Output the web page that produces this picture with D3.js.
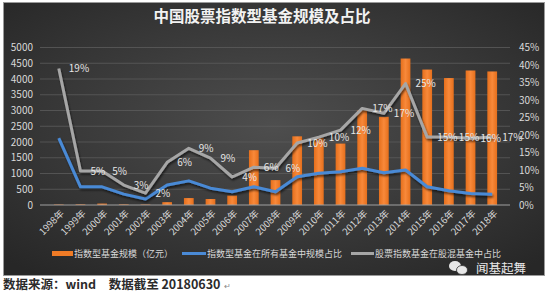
<!DOCTYPE html>
<html>
<head>
<meta charset="utf-8">
<script src="https://cdn.jsdelivr.net/npm/d3@7"></script>
<style>
  body { margin: 0; background: #fff; }
  svg { display: block; }
  text { font-family: "Noto Sans CJK SC", "Noto Sans", sans-serif; }
</style>
</head>
<body>
<svg id="chart" width="550" height="294"></svg>
<script>
// 年份
const years = ["1998年","1999年","2000年","2001年","2002年","2003年","2004年","2005年","2006年","2007年",
  "2008年","2009年","2010年","2011年","2012年","2013年","2014年","2015年","2016年","2017年","2018年"];
// 指数型基金规模（亿元）
const fundSize = [15, 20, 45, 20, 15, 90, 220, 190, 300, 1740, 790, 2180, 2130, 1950, 3000, 2800, 4650, 4300, 4030, 4270, 4240];
// 指数型基金在所有基金中规模占比 (%)
const shareAll = [19.1, 5.2, 5.2, 3.1, 1.7, 5.7, 6.9, 4.8, 3.8, 5.2, 3.8, 8.1, 9.1, 9.5, 10.5, 9.2, 10.0, 5.2, 4.1, 3.3, 3.1];
// 股票指数基金在股混基金中占比 (%)
const shareEquity = [39.0, 9.7, 9.7, 5.7, 3.4, 12.2, 16.2, 13.4, 8.0, 10.8, 10.5, 17.7, 19.4, 21.4, 27.6, 26.2, 34.7, 19.4, 19.4, 19.1, 19.4];
// 图上的数据标签
const pointLabels = ["19%","5%","5%","3%","2%","6%","9%","9%","4%","6%","6%","10%","10%","12%","17%","17%","25%","15%","15%","16%","17%"];
const leftTicks = [0, 500, 1000, 1500, 2000, 2500, 3000, 3500, 4000, 4500, 5000];
const rightTicks = [0, 5, 10, 15, 20, 25, 30, 35, 40, 45];

const svg = d3.select("#chart");
const defs = svg.append("defs");

const bg = defs.append("radialGradient").attr("id", "bg").attr("cx", "50%").attr("cy", "45%").attr("r", "70%");
bg.append("stop").attr("offset", "0%").attr("stop-color", "#4e4e4e");
bg.append("stop").attr("offset", "100%").attr("stop-color", "#272727");

const barGrad = defs.append("linearGradient").attr("id", "barGrad").attr("x1", 0).attr("x2", 1).attr("y1", 0).attr("y2", 0);
barGrad.append("stop").attr("offset", "0%").attr("stop-color", "#e56f1c");
barGrad.append("stop").attr("offset", "50%").attr("stop-color", "#f8893a");
barGrad.append("stop").attr("offset", "100%").attr("stop-color", "#e56f1c");

const shadow = defs.append("filter").attr("id", "shadow").attr("x", "-10%").attr("y", "-10%").attr("width", "120%").attr("height", "130%");
shadow.append("feDropShadow").attr("dx", 1).attr("dy", 2).attr("stdDeviation", 1.2)
  .attr("flood-color", "#000").attr("flood-opacity", 0.6);

// 背景面板
svg.append("rect").attr("x", 3.5).attr("y", 2.5).attr("width", 541).attr("height", 273)
  .attr("fill", "url(#bg)").attr("stroke", "#9a9a9a").attr("stroke-width", 1);

svg.append("text").attr("x", 262).attr("y", 22).attr("text-anchor", "middle")
  .attr("fill", "#f2f2f2").attr("font-size", 15.5).attr("font-weight", "bold")
  .text("中国股票指数型基金规模及占比");

const x = d3.scaleBand().domain(years).range([42, 509]).padding(0.55);
const y = d3.scaleLinear().domain([0, 5000]).range([205, 47.5]);
const y2 = d3.scaleLinear().domain([0, 45]).range([205, 47.5]);
const cx = (d) => x(d) + x.bandwidth() / 2;

// 网格线
svg.append("g").selectAll("line").data(leftTicks.slice(1)).join("line")
  .attr("x1", 40).attr("x2", 510)
  .attr("y1", (d) => y(d)).attr("y2", (d) => y(d))
  .attr("stroke", "#5c5c5c").attr("stroke-width", 0.8);

const yAxis = svg.append("g").attr("transform", "translate(33,0)")
  .call(d3.axisLeft(y).tickValues(leftTicks).tickFormat(d3.format("d")).tickSize(0).tickPadding(0));
yAxis.select(".domain").remove();
yAxis.selectAll("text").attr("fill", "#d9d9d9").attr("font-size", 10)
  .attr("font-family", "'Liberation Sans', sans-serif");

const y2Axis = svg.append("g").attr("transform", "translate(519,0)")
  .call(d3.axisRight(y2).tickValues(rightTicks).tickFormat((d) => d + "%").tickSize(0).tickPadding(0));
y2Axis.select(".domain").remove();
y2Axis.selectAll("text").attr("fill", "#d9d9d9").attr("font-size", 10)
  .attr("font-family", "'Liberation Sans', sans-serif");

// 柱
svg.append("g").selectAll("rect").data(years).join("rect")
  .attr("x", (d) => x(d))
  .attr("y", (d, i) => y(fundSize[i]))
  .attr("width", x.bandwidth())
  .attr("height", (d, i) => y(0) - y(fundSize[i]))
  .attr("fill", "url(#barGrad)");

svg.append("line").attr("x1", 40).attr("x2", 510).attr("y1", y(0)).attr("y2", y(0))
  .attr("stroke", "#a0a0a0").attr("stroke-width", 1);

const xAxis = svg.append("g").attr("transform", `translate(0,${y(0)})`)
  .call(d3.axisBottom(x).tickSize(0).tickPadding(0));
xAxis.select(".domain").remove();
xAxis.selectAll("text")
  .attr("fill", "#d9d9d9").attr("font-size", 9.5)
  .attr("text-anchor", "end")
  .attr("dy", 0)
  .attr("transform", "translate(6,9) rotate(-45)");

// 折线
const lineAll = d3.line().x((d, i) => cx(years[i])).y((d) => y2(d));
svg.append("path").datum(shareAll).attr("d", lineAll)
  .attr("fill", "none").attr("stroke", "#4a8ad6").attr("stroke-width", 3)
  .attr("stroke-linejoin", "round").attr("filter", "url(#shadow)");
svg.append("path").datum(shareEquity).attr("d", lineAll)
  .attr("fill", "none").attr("stroke", "#a6a6a6").attr("stroke-width", 3)
  .attr("stroke-linejoin", "round").attr("filter", "url(#shadow)");

svg.append("g").selectAll("text").data(pointLabels).join("text")
  .attr("x", (d, i) => cx(years[i]) + 10)
  .attr("y", (d, i) => y2(shareEquity[i]) + 3.5)
  .attr("fill", "#e6e6e6").attr("font-size", 10)
  .attr("font-family", "'Liberation Sans', sans-serif")
  .text((d) => d);

// 图例
const legend = svg.append("g").attr("font-size", 9).attr("fill", "#d9d9d9");
legend.append("rect").attr("x", 52).attr("y", 251).attr("width", 21).attr("height", 5).attr("fill", "#f07b26");
legend.append("text").attr("x", 74).attr("y", 257).text("指数型基金规模（亿元）");
legend.append("line").attr("x1", 182).attr("x2", 206).attr("y1", 253.5).attr("y2", 253.5)
  .attr("stroke", "#4a8ad6").attr("stroke-width", 3);
legend.append("text").attr("x", 207).attr("y", 257).text("指数型基金在所有基金中规模占比");
legend.append("line").attr("x1", 351).attr("x2", 374).attr("y1", 253.5).attr("y2", 253.5)
  .attr("stroke", "#a6a6a6").attr("stroke-width", 3);
legend.append("text").attr("x", 375).attr("y", 257).text("股票指数基金在股混基金中占比");

// 水印
const wm = svg.append("g").attr("fill", "#e8e8e8");
wm.append("ellipse").attr("cx", 455).attr("cy", 266).attr("rx", 6).attr("ry", 5);
wm.append("ellipse").attr("cx", 462).attr("cy", 270).attr("rx", 5.5).attr("ry", 4.5)
  .attr("stroke", "#333").attr("stroke-width", 0.8);
wm.append("text").attr("x", 476).attr("y", 273).attr("font-size", 12.5).text("闻基起舞");

// 来源
svg.append("text").attr("x", 3).attr("y", 289).attr("font-size", 12.5).attr("font-weight", "bold")
  .attr("fill", "#2b2b2b").text("数据来源：wind　数据截至 20180630");
svg.append("text").attr("x", 224).attr("y", 289).attr("font-size", 8).attr("fill", "#888").text("↵");
</script>
</body>
</html>
